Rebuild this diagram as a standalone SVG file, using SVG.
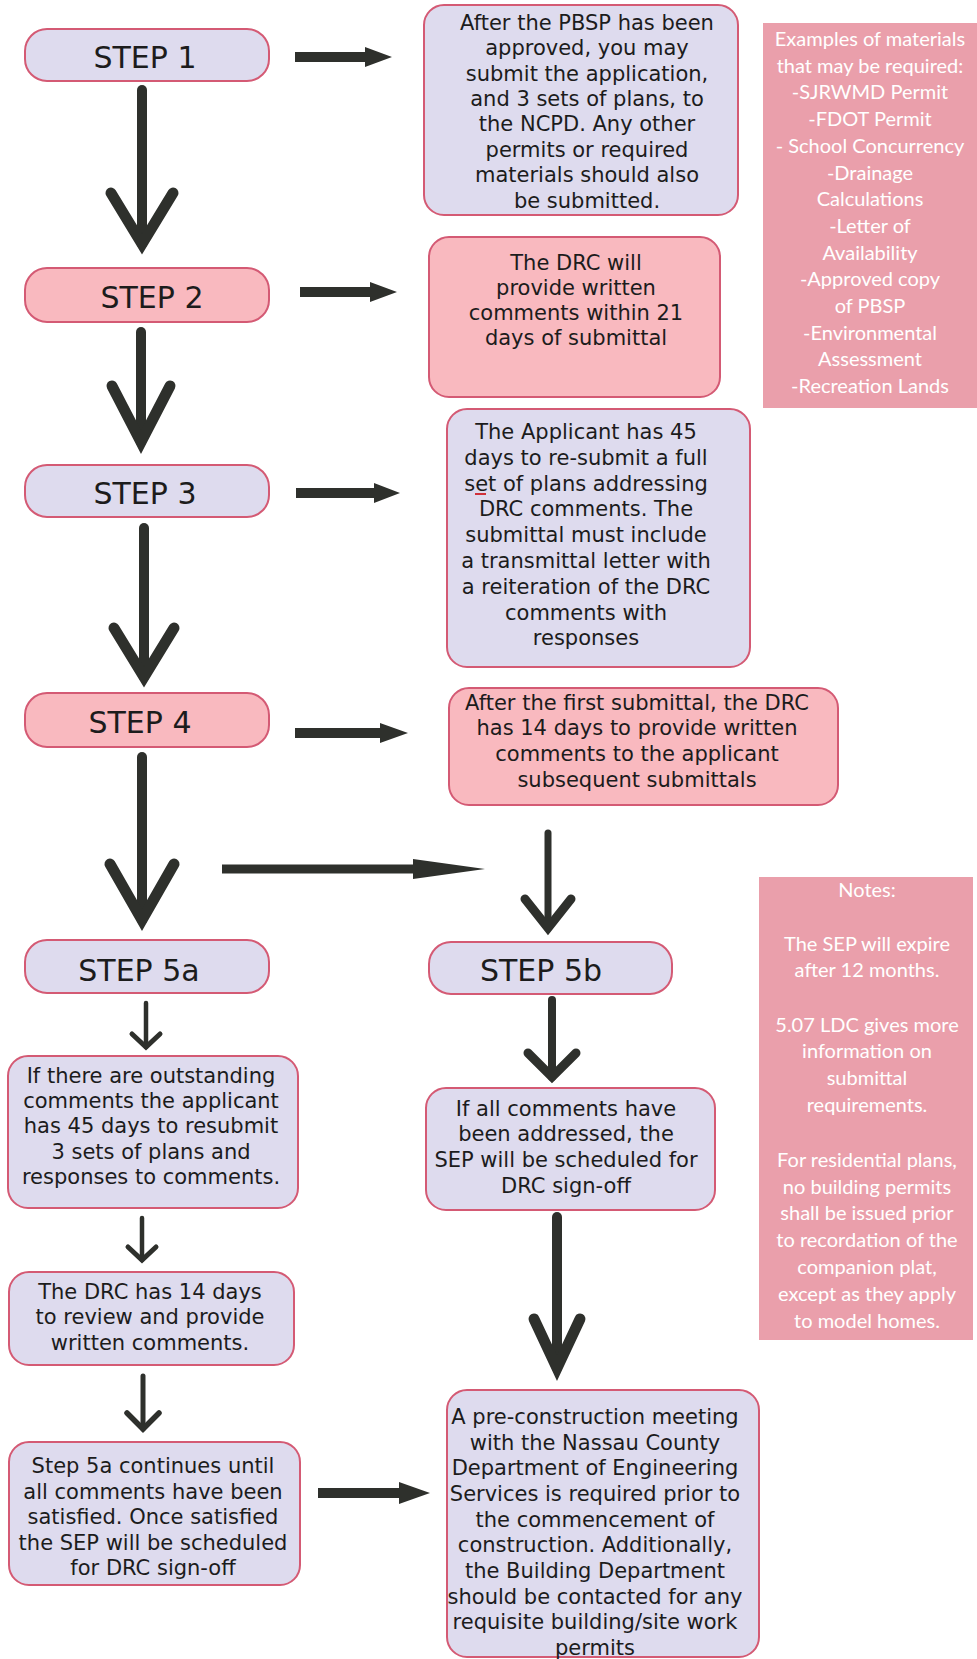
<svg xmlns="http://www.w3.org/2000/svg" width="977" height="1659" viewBox="0 0 977 1659">
<style>
.lav{fill:#dedbee;stroke:#d45a74;stroke-width:2}
.pink{fill:#f9b9bf;stroke:#d45a74;stroke-width:2}
.side{fill:#ea9fab}
.t{font-family:"DejaVu Sans",Verdana,sans-serif;font-size:21px;fill:#1c1c1c;text-anchor:middle}
.step{font-size:30px}
.s{font-family:Lato,"Open Sans",sans-serif;font-size:20px;fill:#ffffff;text-anchor:middle}
.ar{fill:#2e302c}
.sh{stroke:#2e302c;fill:none;stroke-linecap:round}
.wg{stroke:#2e302c;fill:none;stroke-linecap:round;stroke-linejoin:miter;stroke-miterlimit:10}
</style>
<rect width="977" height="1659" fill="#ffffff"/>

<g id="connectors">
  <!-- horizontal arrows -->
  <polygon class="ar" points="295,52 365,52 365,47 392,57 365,67 365,62 295,62"/>
  <polygon class="ar" points="300,287 370,287 370,282 397,292 370,302 370,297 300,297"/>
  <polygon class="ar" points="296,488 374,488 374,483 400,493 374,503 374,498 296,498"/>
  <polygon class="ar" points="295,728 380,728 380,723 408,733 380,743 380,738 295,738"/>
  <polygon class="ar" points="222,864.5 413,864.5 413,859 485,869 413,879 413,873.5 222,873.5"/>
  <polygon class="ar" points="318,1488 399,1488 399,1482 430,1493 399,1504 399,1498 318,1498"/>
  <!-- vertical arrows -->
  <g id="v1"><line class="sh" x1="142" y1="90" x2="142" y2="244" stroke-width="10"/><polyline class="wg" points="111,193 142,244 173,193" stroke-width="11"/></g>
  <g id="v2"><line class="sh" x1="141" y1="332" x2="141" y2="442" stroke-width="10"/><polyline class="wg" points="112,386 141,442 170,386" stroke-width="11"/></g>
  <g id="v3"><line class="sh" x1="144" y1="528" x2="144" y2="677" stroke-width="10"/><polyline class="wg" points="114,628 144,677 174,628" stroke-width="11"/></g>
  <g id="v4"><line class="sh" x1="142" y1="757" x2="142" y2="920" stroke-width="10"/><polyline class="wg" points="110,864 142,920 174,864" stroke-width="11"/></g>
  <g id="v5"><line class="sh" x1="548" y1="833" x2="548" y2="928" stroke-width="7"/><polyline class="wg" points="525,899 548,928 571,899" stroke-width="9"/></g>
  <g id="v6"><line class="sh" x1="146" y1="1003" x2="146" y2="1047" stroke-width="4.5"/><polyline class="wg" points="132,1034 146,1047 160,1034" stroke-width="5"/></g>
  <g id="v7"><line class="sh" x1="552" y1="1000" x2="552" y2="1077" stroke-width="8"/><polyline class="wg" points="528,1053 552,1077 576,1053" stroke-width="9"/></g>
  <g id="v8"><line class="sh" x1="142" y1="1218" x2="142" y2="1260" stroke-width="4.5"/><polyline class="wg" points="128,1247 142,1260 156,1247" stroke-width="5"/></g>
  <g id="v9"><line class="sh" x1="557" y1="1217" x2="557" y2="1368" stroke-width="10"/><polyline class="wg" points="534,1319 557,1368 580,1319" stroke-width="11"/></g>
  <g id="v10"><line class="sh" x1="143" y1="1376" x2="143" y2="1429" stroke-width="5"/><polyline class="wg" points="127,1413 143,1429 159,1413" stroke-width="5.5"/></g>
</g>

<g id="step1"><rect class="lav" x="25" y="29" width="244" height="52" rx="22"/><text class="t step" x="145" y="68">STEP 1</text></g>
<g id="step2"><rect class="pink" x="25" y="268" width="244" height="54" rx="22"/><text class="t step" x="152" y="308">STEP 2</text></g>
<g id="step3"><rect class="lav" x="25" y="465" width="244" height="52" rx="22"/><text class="t step" x="145" y="504">STEP 3</text></g>
<g id="step4"><rect class="pink" x="25" y="693" width="244" height="54" rx="22"/><text class="t step" x="140" y="733">STEP 4</text></g>
<g id="step5a"><rect class="lav" x="25" y="940" width="244" height="53" rx="22"/><text class="t step" x="139" y="981">STEP 5a</text></g>
<g id="step5b"><rect class="lav" x="429" y="942" width="243" height="52" rx="22"/><text class="t step" x="541" y="981">STEP 5b</text></g>

<g id="boxA"><rect class="lav" x="424" y="5" width="314" height="210" rx="20"/>
<text class="t"><tspan x="587" y="29.5">After the PBSP has been</tspan><tspan x="587" y="55">approved, you may</tspan><tspan x="587" y="80.5">submit the application,</tspan><tspan x="587" y="106">and 3 sets of plans, to</tspan><tspan x="587" y="131">the NCPD. Any other</tspan><tspan x="587" y="156.5">permits or required</tspan><tspan x="587" y="182">materials should also</tspan><tspan x="587" y="207.5">be submitted.</tspan></text></g>

<g id="boxB"><rect class="pink" x="429" y="237" width="291" height="160" rx="20"/>
<text class="t"><tspan x="576" y="270">The DRC will</tspan><tspan x="576" y="295">provide written</tspan><tspan x="576" y="320">comments within 21</tspan><tspan x="576" y="345">days of submittal</tspan></text></g>

<g id="boxC"><rect class="lav" x="447" y="409" width="303" height="258" rx="20"/>
<line x1="475" y1="494" x2="486" y2="494" stroke="#d0303a" stroke-width="2"/>
<text class="t"><tspan x="586" y="439">The Applicant has 45</tspan><tspan x="586" y="465">days to re-submit a full</tspan><tspan x="586" y="491">set of plans addressing</tspan><tspan x="586" y="516">DRC comments. The</tspan><tspan x="586" y="542">submittal must include</tspan><tspan x="586" y="568">a transmittal letter with</tspan><tspan x="586" y="594">a reiteration of the DRC</tspan><tspan x="586" y="620">comments with</tspan><tspan x="586" y="645">responses</tspan></text></g>

<g id="boxD"><rect class="pink" x="449" y="688" width="389" height="117" rx="20"/>
<text class="t"><tspan x="637" y="710">After the first submittal, the DRC</tspan><tspan x="637" y="735">has 14 days to provide written</tspan><tspan x="637" y="761">comments to the applicant</tspan><tspan x="637" y="787">subsequent submittals</tspan></text></g>

<g id="boxE"><rect class="lav" x="8" y="1056" width="290" height="152" rx="20"/>
<text class="t"><tspan x="151" y="1083">If there are outstanding</tspan><tspan x="151" y="1108">comments the applicant</tspan><tspan x="151" y="1133">has 45 days to resubmit</tspan><tspan x="151" y="1159">3 sets of plans and</tspan><tspan x="151" y="1184">responses to comments.</tspan></text></g>

<g id="boxF"><rect class="lav" x="426" y="1088" width="289" height="122" rx="20"/>
<text class="t"><tspan x="566" y="1116">If all comments have</tspan><tspan x="566" y="1141">been addressed, the</tspan><tspan x="566" y="1167">SEP will be scheduled for</tspan><tspan x="566" y="1193">DRC sign-off</tspan></text></g>

<g id="boxG"><rect class="lav" x="9" y="1272" width="285" height="93" rx="20"/>
<text class="t"><tspan x="150" y="1299">The DRC has 14 days</tspan><tspan x="150" y="1324">to review and provide</tspan><tspan x="150" y="1350">written comments.</tspan></text></g>

<g id="boxH"><rect class="lav" x="9" y="1442" width="291" height="143" rx="20"/>
<text class="t"><tspan x="153" y="1473">Step 5a continues until</tspan><tspan x="153" y="1499">all comments have been</tspan><tspan x="153" y="1524">satisfied. Once satisfied</tspan><tspan x="153" y="1550">the SEP will be scheduled</tspan><tspan x="153" y="1575">for DRC sign-off</tspan></text></g>

<g id="boxI"><rect class="lav" x="447" y="1390" width="312" height="267" rx="20"/>
<text class="t"><tspan x="595" y="1424">A pre-construction meeting</tspan><tspan x="595" y="1450">with the Nassau County</tspan><tspan x="595" y="1475">Department of Engineering</tspan><tspan x="595" y="1501">Services is required prior to</tspan><tspan x="595" y="1527">the commencement of</tspan><tspan x="595" y="1552">construction. Additionally,</tspan><tspan x="595" y="1578">the Building Department</tspan><tspan x="595" y="1604">should be contacted for any</tspan><tspan x="595" y="1629">requisite building/site work</tspan><tspan x="595" y="1655">permits</tspan></text></g>

<g id="examples"><rect class="side" x="763" y="23" width="214" height="385"/>
<text class="s"><tspan x="870" y="46">Examples of materials</tspan><tspan x="870" y="72.7">that may be required:</tspan><tspan x="870" y="99.4">-SJRWMD Permit</tspan><tspan x="870" y="126.1">-FDOT Permit</tspan><tspan x="870" y="152.8">- School Concurrency</tspan><tspan x="870" y="179.5">-Drainage</tspan><tspan x="870" y="206.2">Calculations</tspan><tspan x="870" y="232.9">-Letter of</tspan><tspan x="870" y="259.6">Availability</tspan><tspan x="870" y="286.3">-Approved copy</tspan><tspan x="870" y="313">of PBSP</tspan><tspan x="870" y="339.7">-Environmental</tspan><tspan x="870" y="366.4">Assessment</tspan><tspan x="870" y="393.1">-Recreation Lands</tspan></text></g>

<g id="notes"><rect class="side" x="759" y="877" width="214" height="463"/>
<text class="s"><tspan x="867" y="897">Notes:</tspan><tspan x="867" y="951">The SEP will expire</tspan><tspan x="867" y="977">after 12 months.</tspan><tspan x="867" y="1032">5.07 LDC gives more</tspan><tspan x="867" y="1058">information on</tspan><tspan x="867" y="1085">submittal</tspan><tspan x="867" y="1112">requirements.</tspan><tspan x="867" y="1167">For residential plans,</tspan><tspan x="867" y="1194">no building permits</tspan><tspan x="867" y="1220">shall be issued prior</tspan><tspan x="867" y="1247">to recordation of the</tspan><tspan x="867" y="1274">companion plat,</tspan><tspan x="867" y="1301">except as they apply</tspan><tspan x="867" y="1328">to model homes.</tspan></text></g>
</svg>
